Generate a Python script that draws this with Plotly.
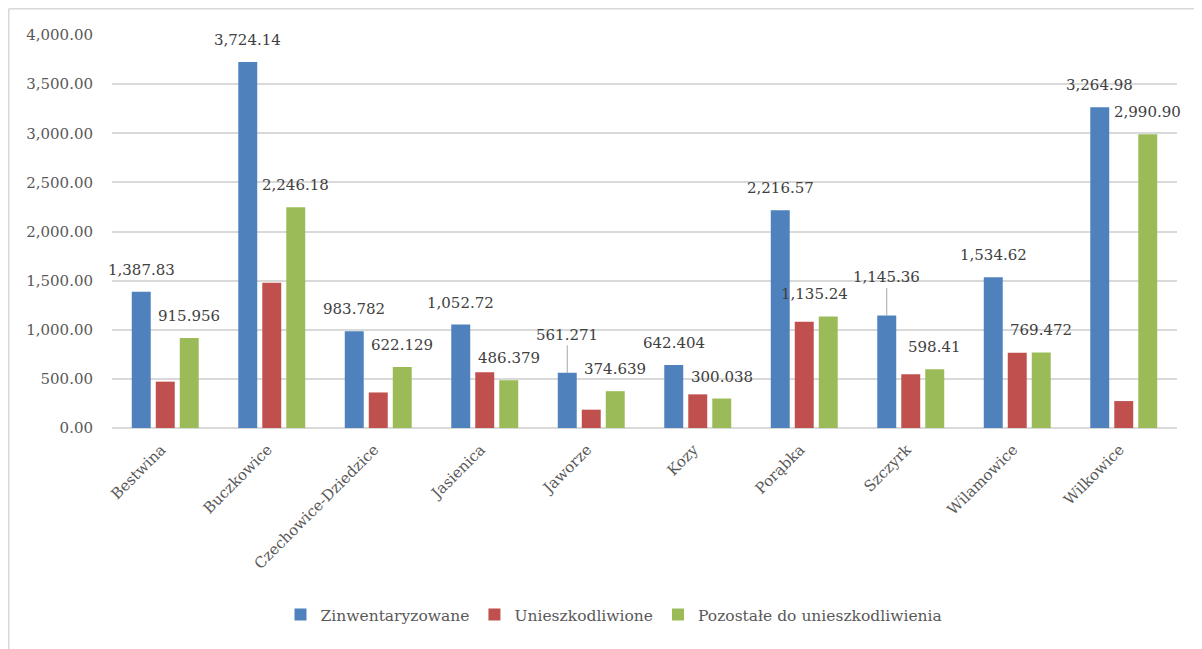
import plotly.graph_objects as go

categories = ["Bestwina", "Buczkowice", "Czechowice-Dziedzice", "Jasienica", "Jaworze",
              "Kozy", "Porąbka", "Szczyrk", "Wilamowice", "Wilkowice"]
series_names = ["Zinwentaryzowane", "Unieszkodliwione", "Pozostałe do unieszkodliwienia"]

zinwentaryzowane = [1387.83, 3724.14, 983.782, 1052.72, 561.271, 642.404, 2216.57, 1145.36, 1534.62, 3264.98]
unieszkodliwione = [471.874, 1477.96, 361.653, 566.341, 186.632, 342.366, 1081.33, 546.95, 765.148, 274.08]
pozostale = [915.956, 2246.18, 622.129, 486.379, 374.639, 300.038, 1135.24, 598.41, 769.472, 2990.90]

zinw_labels = ["1,387.83", "3,724.14", "983.782", "1,052.72", "561.271",
               "642.404", "2,216.57", "1,145.36", "1,534.62", "3,264.98"]
poz_labels = ["915.956", "2,246.18", "622.129", "486.379", "374.639",
              "300.038", "1,135.24", "598.41", "769.472", "2,990.90"]

y_ticks = [0, 500, 1000, 1500, 2000, 2500, 3000, 3500, 4000]
y_tick_text = ["0.00", "500.00", "1,000.00", "1,500.00", "2,000.00",
               "2,500.00", "3,000.00", "3,500.00", "4,000.00"]

colors = ["#4f81bd", "#c0504d", "#9bbb59"]
FONT = "DejaVu Serif"
TXT = "#404040"
TICK = "#595959"

fig = go.Figure()
for name, vals, col in zip(series_names, [zinwentaryzowane, unieszkodliwione, pozostale], colors):
    fig.add_trace(go.Bar(x=categories, y=vals, name=name, marker=dict(color=col, line=dict(width=0))))

# data labels
annotations = []
leader = {"Jaworze", "Szczyrk"}
for cat, v, t in zip(categories, zinwentaryzowane, zinw_labels):
    if cat in leader:
        annotations.append(dict(x=cat, y=v, text=t, xshift=-24, showarrow=True, ax=0, ay=-38,
                                arrowhead=0, arrowwidth=1, arrowcolor="#a6a6a6", standoff=0,
                                font=dict(family=FONT, size=15, color=TXT)))
    else:
        annotations.append(dict(x=cat, y=v, text=t, xshift=-24, yshift=22, showarrow=False,
                                font=dict(family=FONT, size=15, color=TXT)))
green_xshift = {"Porąbka": 10}
for cat, v, t in zip(categories, pozostale, poz_labels):
    annotations.append(dict(x=cat, y=v, text=t, xshift=green_xshift.get(cat, 24), yshift=22,
                            showarrow=False, font=dict(family=FONT, size=15, color=TXT)))

# page has an 8px body margin: figure coordinates = page - 8
W, H = 1194, 641
L, R, T, B = 104, 25, 27, 221
pw, ph = W - L - R, H - T - B

bx = (0.75 - L) / pw
by = 1 + (T - 0.75) / ph
shapes = [
    dict(type="line", xref="paper", yref="paper", x0=bx, x1=bx, y0=by, y1=-(B + 10) / ph,
         line=dict(color="#d9d9d9", width=1.5)),
    dict(type="line", xref="paper", yref="paper", x0=bx, x1=(W + 10 - L) / pw, y0=by, y1=by,
         line=dict(color="#d9d9d9", width=1.5)),
]

fig.update_layout(
    width=W, height=H,
    margin=dict(l=L, r=R, t=T, b=B, autoexpand=False),
    paper_bgcolor="white", plot_bgcolor="white",
    barmode="group", bargap=0.324, bargroupgap=0.21,
    font=dict(family=FONT, size=15, color=TICK),
    xaxis=dict(range=[-0.5, len(categories) - 0.5], tickangle=-45, showgrid=False,
               showline=False, ticks="", ticklabelshift=-4, ticklabelstandoff=9,
               tickfont=dict(family=FONT, size=15, color=TICK)),
    yaxis=dict(range=[0, 4000], tickvals=y_ticks, ticktext=y_tick_text,
               showgrid=True, gridcolor="#d9d9d9", gridwidth=1.5, zeroline=True,
               zerolinecolor="#d9d9d9", zerolinewidth=1.5, showline=False, ticks="",
               ticklabelstandoff=18,
               tickfont=dict(family=FONT, size=15, color=TICK)),
    legend=dict(orientation="h", x=(606 - L) / pw, xanchor="center",
                y=-(607 - (T + ph)) / ph, yanchor="middle",
                font=dict(family=FONT, size=15.5, color=TICK),
                itemwidth=30, tracegroupgap=0),
    annotations=annotations,
    shapes=shapes,
)

fig.write_html("out.html")
